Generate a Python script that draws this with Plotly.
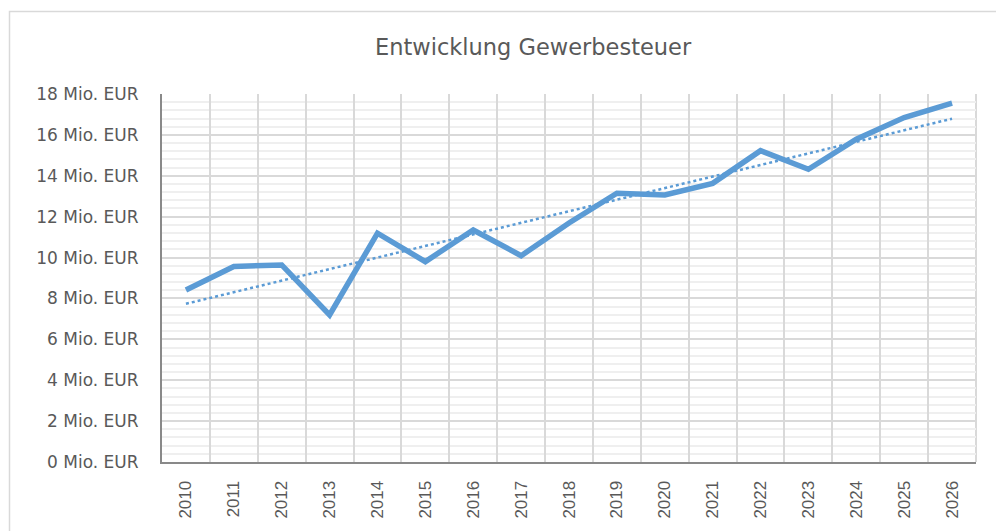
import plotly.graph_objects as go
import numpy as np

years = [str(y) for y in range(2010, 2027)]
values = [8.41, 9.56, 9.64, 7.19, 11.19, 9.80, 11.35, 10.09, 11.69, 13.15,
          13.06, 13.63, 15.23, 14.32, 15.79, 16.85, 17.55]
y_tickvals = [0, 2, 4, 6, 8, 10, 12, 14, 16, 18]
y_ticktext = [f"{v} Mio. EUR" for v in y_tickvals]
title_text = "Entwicklung Gewerbesteuer"

# linear trendline (as Excel's linear trend)
xi = np.arange(len(values))
slope, intercept = np.polyfit(xi, values, 1)
trend = list(slope * xi + intercept)

OFF = 8  # page body margin
W, H = 1004 - OFF, 531 - OFF
L, T = 162 - OFF, 94 - OFF
R = W - (976 - OFF)
B = H - (462 - OFF)
pw, ph = W - L - R, H - T - B

def px2paper_x(px):  # px in window coords
    return (px - OFF - L) / pw

def px2paper_y(py):
    return (H - B - (py - OFF)) / ph

fig = go.Figure()
fig.add_trace(go.Scatter(x=years, y=values, mode="lines",
                         line=dict(color="#5b9bd5", width=5.5), showlegend=False))
fig.add_trace(go.Scatter(x=years, y=trend, mode="lines",
                         line=dict(color="#5b9bd5", width=2.5, dash="dot"), showlegend=False))

fig.update_layout(
    width=W, height=H,
    margin=dict(l=L, r=R, t=T, b=B, autoexpand=False),
    paper_bgcolor="white", plot_bgcolor="white",
    font=dict(family="DejaVu Sans, sans-serif", color="#595959"),
    xaxis=dict(type="category", range=[-0.5, 16.5], tickson="boundaries",
               showgrid=True, gridcolor="#d9d9d9", gridwidth=2,
               showline=True, linecolor="#898989", linewidth=2,
               ticks="", tickangle=-90, ticklabelstandoff=10,
               tickfont=dict(size=17, family="Liberation Sans Narrow, Arial Narrow, sans-serif",
                             color="#595959"),
               zeroline=False),
    yaxis=dict(range=[0, 18], tickvals=y_tickvals, ticktext=y_ticktext,
               showgrid=True, gridcolor="#d9d9d9", gridwidth=2,
               minor=dict(dtick=0.4, showgrid=True, gridcolor="#efefef", gridwidth=1.5),
               showline=True, linecolor="#898989", linewidth=2,
               ticks="", ticklabelstandoff=18,
               tickfont=dict(size=17, family="DejaVu Sans, sans-serif", color="#595959"),
               zeroline=False),
)

fig.add_annotation(text=title_text, xref="paper", yref="paper",
                   x=px2paper_x(533), y=px2paper_y(47), xanchor="center", yanchor="middle",
                   showarrow=False, font=dict(size=22.5, color="#595959",
                                              family="DejaVu Sans, sans-serif"))

# right plot-area edge
fig.add_shape(type="line", xref="paper", yref="paper", x0=1, x1=1, y0=0, y1=1,
              line=dict(color="#d9d9d9", width=2), layer="below")
# chart outer border
fig.add_shape(type="rect", xref="paper", yref="paper",
              x0=px2paper_x(9.5), x1=px2paper_x(1001.5),
              y0=px2paper_y(545), y1=px2paper_y(11.5),
              line=dict(color="#d9d9d9", width=1.5), fillcolor="rgba(0,0,0,0)")

fig.write_html("out.html")
